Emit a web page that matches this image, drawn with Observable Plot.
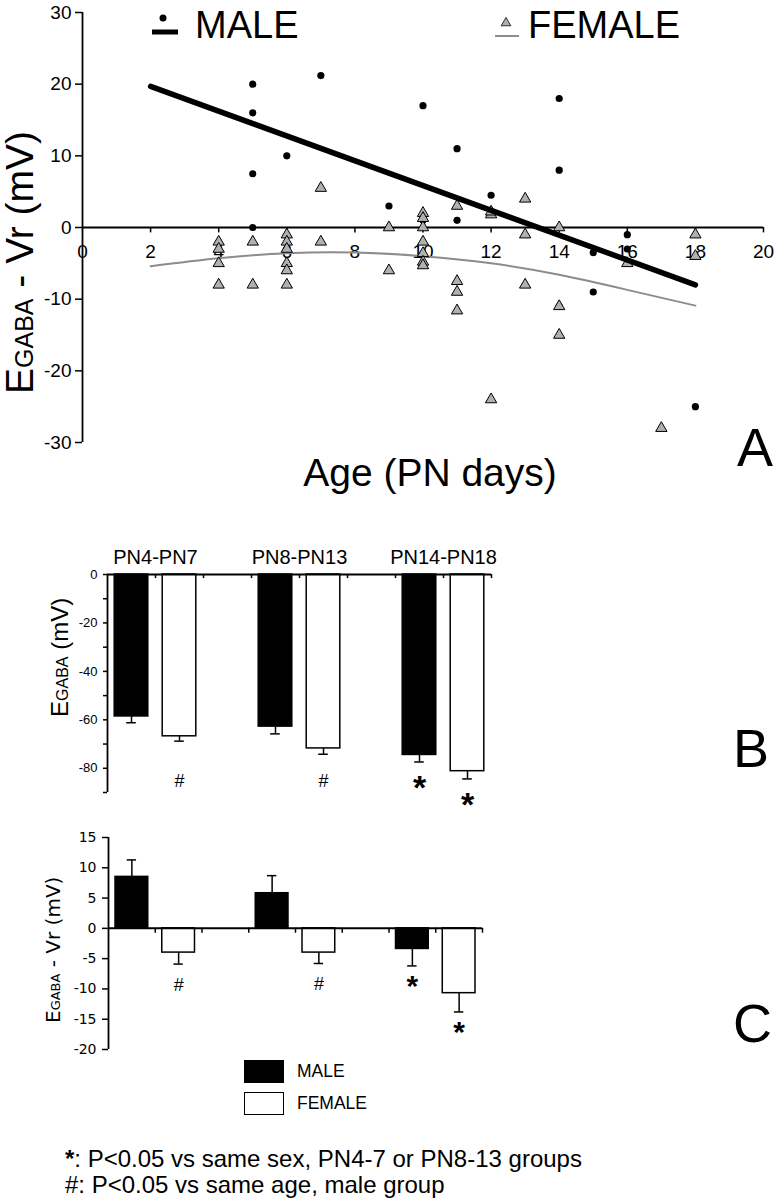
<!DOCTYPE html>
<html><head><meta charset="utf-8">
<script src="https://cdn.jsdelivr.net/npm/d3@7"></script>
<script src="https://cdn.jsdelivr.net/npm/@observablehq/plot@0.6"></script>
<style>
body{margin:0;background:#fff}
#wrap{position:relative;width:774px;height:1200px;background:#fff;font-family:'Liberation Sans',Arial,sans-serif;color:#000}
#wrap svg{position:absolute;left:0;overflow:visible}
.abs{position:absolute;white-space:pre;line-height:1}
</style></head>
<body><div id="wrap"></div>
<script>
// ---------- Panel A data (scatter) ----------
const maleAge = [5,5,5,5,6,7,9,10,10,11,11,12,14,14,14,15,15,16,16,18];
const maleVal = [20,16,7.5,0,10,21.2,3,17,1,11,1,4.5,18,8,-11,-3.5,-9,-1,-3,-25];
const femaleAge = [4,4,4,4,5,5,6,6,6,6,6,6,7,7,9,9,10,10,10,10,10,10,10,11,11,11,11,12,12,12,13,13,13,14,14,14,16,17,18,18];
const femaleVal = [-2,-3,-5,-8,-2,-8,-1,-2,-3,-5,-6,-8,5.5,-2,0,-6,2,1.3,0,-2,-3.6,-4.8,-5.3,3,-7.5,-9,-11.6,1.8,2.2,-24,4,-1,-8,0,-11,-15,-5,-28,-1,-4];
const maleFitAge = [2,18];
const maleFitVal = [19.7,-8];
const femaleFitAge = [2,4,6,8,10,12,14,16,18];
const femaleFitVal = [-5.4,-4.3,-3.6,-3.5,-4.0,-5.0,-6.6,-8.7,-10.9];
const xTicksA = [0,2,4,6,8,10,12,14,16,18,20];
const yTicksA = [-30,-20,-10,0,10,20,30];

// ---------- Panels B & C data (bars) ----------
const groups = ["PN4-PN7","PN8-PN13","PN14-PN18"];
const sexes = ["MALE","FEMALE"];
const egabaMale = [-58.6,-62.8,-74.5];
const egabaMaleErr = [2.6,3.0,2.9];
const egabaFemale = [-66.8,-71.8,-81.2];
const egabaFemaleErr = [2.0,2.4,3.2];
const egabaSigMale = ["","","*"];
const egabaSigFemale = ["#","#","*"];
const yTicksB = [0,-10,-20,-30,-40,-50,-60,-70,-80,-90];

const dvMale = [8.5,5.8,-3.4];
const dvMaleErr = [2.8,2.9,2.8];
const dvFemale = [-4.0,-4.0,-10.7];
const dvFemaleErr = [1.9,1.8,3.1];
const dvSigMale = ["","","*"];
const dvSigFemale = ["#","#","*"];
const yTicksC = [15,10,5,0,-5,-10,-15,-20];

const SANS = "'Liberation Sans',Arial,Helvetica,sans-serif";
const VERD = "'DejaVu Sans',Verdana,sans-serif";
const wrap = document.getElementById("wrap");

function place(svg, top){ svg.style.top = top + "px"; wrap.appendChild(svg); return svg; }
function addText(parent, x, y, parts, opts = {}){
  const t = d3.select(parent).append("text")
    .attr("x", x).attr("y", y)
    .attr("font-family", opts.family || SANS)
    .attr("text-anchor", opts.anchor || "start")
    .attr("fill", "black")
    .style("white-space", "pre");
  if (opts.rotate) t.attr("transform", `rotate(-90 ${x} ${y})`);
  for (const [s, size] of parts) t.append("tspan").attr("font-size", size).text(s);
  return t;
}

// ---------- Panel A ----------
const male = maleAge.map((a,i)=>({age:a, v:maleVal[i]}));
const female = femaleAge.map((a,i)=>({age:a, v:femaleVal[i]}));
const maleFit = maleFitAge.map((a,i)=>({age:a, v:maleFitVal[i]}));
const femaleFit = femaleFitAge.map((a,i)=>({age:a, v:femaleFitVal[i]}));

const plotA = Plot.plot({
  width: 774, height: 500,
  marginLeft: 82, marginRight: 11, marginTop: 12, marginBottom: 58,
  x: {domain: [0,20], axis: null},
  y: {domain: [-30,30]},
  style: {fontFamily: SANS, background: "transparent", overflow: "visible"},
  marks: [
    Plot.axisY({ticks: yTicksA, tickSize: 7, tickPadding: 4, fontSize: 19, label: null, tickFormat: d => String(d), strokeWidth: 1.5}),
    Plot.ruleX([0], {strokeWidth: 1.8}),
    Plot.ruleY([0], {strokeWidth: 1.8}),
    Plot.ruleX(xTicksA.slice(1), {x: d => d, y1: 0, y2: -0.75, strokeWidth: 1.5}),
    Plot.text(xTicksA, {x: d => d, y: 0, dy: 24, text: d => String(d), fontSize: 19}),
    Plot.line(femaleFit, {x: "age", y: "v", curve: "natural", stroke: "#8c8c8c", strokeWidth: 2}),
    Plot.dot(male, {x: "age", y: "v", r: 3.6, fill: "black", stroke: "none"}),
    Plot.dot(female, {x: "age", y: "v", symbol: "triangle", r: 4.2, fill: "#b0b0b0", stroke: "black", strokeWidth: 1}),
    Plot.line(maleFit, {x: "age", y: "v", stroke: "black", strokeWidth: 5.5})
  ]
});
place(plotA, 0);
{
  const g = d3.select(plotA).append("g");
  // legend
  g.append("circle").attr("cx",163).attr("cy",18).attr("r",3.5).attr("fill","black");
  g.append("line").attr("x1",152).attr("x2",178).attr("y1",32).attr("y2",32).attr("stroke","black").attr("stroke-width",5);
  addText(plotA, 195, 38, [["MALE", 38]]);
  g.append("path").attr("d", d3.symbol(d3.symbolTriangle, 40)()).attr("transform","translate(506,23)")
    .attr("fill","#b0b0b0").attr("stroke","black").attr("stroke-width",0.8);
  g.append("line").attr("x1",495).attr("x2",519).attr("y1",36).attr("y2",36).attr("stroke","#8c8c8c").attr("stroke-width",2);
  addText(plotA, 528, 38, [["FEMALE", 38]]);
  // axis titles
  addText(plotA, 33, 394, [["E", 39], ["GABA", 25], [" - Vr (mV)", 39]], {rotate: true});
  addText(plotA, 430, 486, [["Age (PN days)", 39]], {anchor: "middle"});
  addText(plotA, 755, 466, [["A", 54]], {anchor: "middle"});
}

// ---------- bar panels ----------
function rowsFor(mVals, mErr, mSig, fVals, fErr, fSig){
  const rows = [];
  groups.forEach((g, gi) => {
    [[mVals, mErr, mSig], [fVals, fErr, fSig]].forEach(([vals, errs, sig], si) => {
      const v = vals[gi], e = errs[gi];
      rows.push({group: g, sex: sexes[si], pos: gi * 3 + si, value: v,
                 errEnd: v + (v >= 0 ? e : -e), sig: sig[gi]});
    });
  });
  return rows;
}
const half = 0.35, cap = 0.1;
const bounds = [0.5,1.5,2.5,3.5,4.5,5.5,6.5,7.5];
function barMarks(rows){
  return [
    Plot.ruleX(rows, {x: "pos", y1: "value", y2: "errEnd", strokeWidth: 1.5}),
    Plot.ruleY(rows, {y: "errEnd", x1: d => d.pos - cap, x2: d => d.pos + cap, strokeWidth: 1.5}),
    Plot.rect(rows, {x1: d => d.pos - half, x2: d => d.pos + half, y1: 0, y2: "value",
      fill: d => d.sex === "MALE" ? "black" : "white", stroke: "black", strokeWidth: 1.5})
  ];
}

// Panel B
const rowsB = rowsFor(egabaMale, egabaMaleErr, egabaSigMale, egabaFemale, egabaFemaleErr, egabaSigFemale);
const plotB = Plot.plot({
  width: 774, height: 275,
  marginLeft: 107, marginRight: 283, marginTop: 34, marginBottom: 23,
  x: {domain: [-0.5, 7.5], axis: null},
  y: {domain: [-90, 0]},
  style: {fontFamily: SANS, background: "transparent", overflow: "visible"},
  marks: [
    Plot.axisY({ticks: yTicksB, tickSize: 4, tickPadding: 6, fontSize: 13, label: null,
      tickFormat: d => d % 20 === 0 ? String(d) : "", strokeWidth: 1.5}),
    Plot.ruleX([-0.5], {strokeWidth: 1.8}),
    ...barMarks(rowsB),
    Plot.ruleY([0], {strokeWidth: 2}),
    Plot.ruleX(bounds, {x: d => d, y1: 0, y2: -1.7, strokeWidth: 1.5}),
    Plot.text(groups, {x: (d, i) => i * 3 + 0.5, y: 0, dy: -17, text: d => d, fontSize: 20}),
    Plot.text(rowsB.filter(d => d.sig === "#"), {x: "pos", y: -85.5, text: "sig", fontSize: 18}),
    Plot.text(rowsB.filter(d => d.sig === "*"), {x: "pos", y: "errEnd", dy: 26, text: "sig", fontSize: 34, fontWeight: "bold"})
  ]
});
place(plotB, 540);
addText(plotB, 68, 177, [["E", 24], ["GABA", 16], [" (mV)", 24]], {rotate: true});

// Panel C
const rowsC = rowsFor(dvMale, dvMaleErr, dvSigMale, dvFemale, dvFemaleErr, dvSigFemale);
const plotC = Plot.plot({
  width: 774, height: 255,
  marginLeft: 108, marginRight: 292, marginTop: 17, marginBottom: 26,
  x: {domain: [-0.5, 7.5], axis: null},
  y: {domain: [-20, 15]},
  style: {fontFamily: VERD, background: "transparent", overflow: "visible"},
  marks: [
    Plot.axisY({ticks: yTicksC, tickSize: 6, tickPadding: 6, fontSize: 14, label: null,
      tickFormat: d => String(d), strokeWidth: 1.5}),
    Plot.ruleX([-0.5], {strokeWidth: 1.8}),
    ...barMarks(rowsC),
    Plot.ruleY([0], {strokeWidth: 2}),
    Plot.ruleX(bounds, {x: d => d, y1: 0, y2: -0.8, strokeWidth: 1.5}),
    Plot.text(rowsC.filter(d => d.sig === "#"), {x: "pos", y: "errEnd", dy: 21, text: "sig", fontSize: 18, fontFamily: SANS}),
    Plot.text(rowsC.filter(d => d.sig === "*"), {x: "pos", y: "errEnd", dy: 20, text: "sig", fontSize: 30, fontWeight: "bold", fontFamily: SANS})
  ]
});
place(plotC, 820);
addText(plotC, 60, 203, [["E", 20], ["GABA", 13], [" - Vr (mV)", 20]], {rotate: true, family: VERD});

// letters B, C
function letter(ch, x, y){ const d = document.createElement("div"); d.className = "abs"; d.textContent = ch;
  d.style.cssText += `left:${x}px;top:${y}px;font-size:54px;`; wrap.appendChild(d); }
letter("B", 733, 721);
letter("C", 733, 996);

// legend (boxes)
function legendItem(label, fill, top){
  const b = document.createElement("div"); b.className = "abs";
  b.style.cssText += `left:244px;top:${top}px;width:38px;height:21px;background:${fill};border:1.5px solid #000;`;
  wrap.appendChild(b);
  const t = document.createElement("div"); t.className = "abs"; t.textContent = label;
  t.style.cssText += `left:297px;top:${top + 3}px;font-size:17.5px;`;
  wrap.appendChild(t);
}
legendItem(sexes[0], "#000", 1060);
legendItem(sexes[1], "#fff", 1092);

// footnotes
const f1 = document.createElement("div"); f1.className = "abs";
f1.style.cssText += `left:65px;top:1147px;font-size:24px;height:24px;`;
f1.innerHTML = '<b>*</b>: P&lt;0.05 vs same sex, PN4-7 or PN8-13 groups';
wrap.appendChild(f1);
const f2 = document.createElement("div"); f2.className = "abs";
f2.style.cssText += `left:65px;top:1173px;font-size:24px;height:24px;`;
f2.textContent = "#: P<0.05 vs same age, male group";
wrap.appendChild(f2);
</script>
</body></html>
